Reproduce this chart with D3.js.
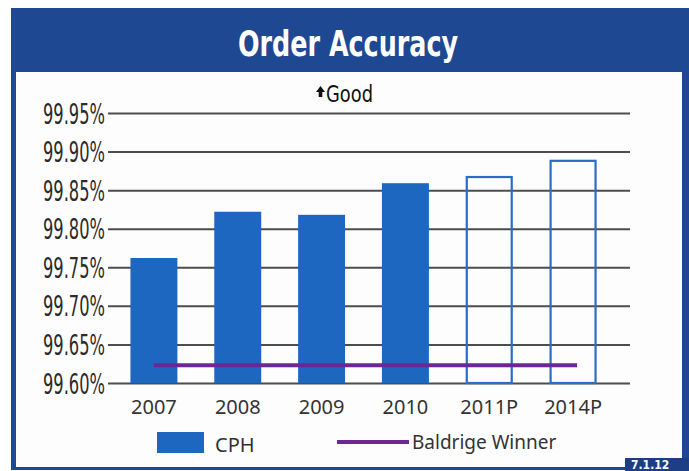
<!DOCTYPE html>
<meta charset="utf-8">

<style>
    body { margin: 0; background: #ffffff; }
    .narrow { font-family: "Liberation Sans Narrow", "DejaVu Sans Condensed", "Liberation Sans", sans-serif; }
    .plain { font-family: "Noto Sans", "DejaVu Sans", sans-serif; }
</style>

<body>
    <script src="https://d3js.org/d3.v7.min.js"></script>
    <script>

    // Chart data
    var years = ['2007', '2008', '2009', '2010', '2011P', '2014P'];
    var cphValues = [99.762, 99.822, 99.818, 99.859, 99.867, 99.888];
    // projected years are drawn as outlined bars
    var projected = [false, false, false, false, true, true];
    var baldrigeValue = 99.623;
    var tickValues = [99.60, 99.65, 99.70, 99.75, 99.80, 99.85, 99.90, 99.95];
    var tickLabels = ['99.60%', '99.65%', '99.70%', '99.75%', '99.80%', '99.85%', '99.90%', '99.95%'];

    var width = 689,
        height = 471;

    var frameBlue = '#1f4893';
    var barBlue = '#1d67c0';
    var purple = '#6b2794';

    var svg = d3.select('body').append('svg')
        .attr('width', width)
        .attr('height', height);

    // Blue frame with the white chart panel inside
    svg.append('rect')
        .attr('x', 11).attr('y', 8)
        .attr('width', 678).attr('height', 462)
        .style('fill', frameBlue);
    svg.append('rect')
        .attr('x', 16).attr('y', 72)
        .attr('width', 666).attr('height', 395)
        .style('fill', '#fdfdfd');

    // small page number tab in the corner
    svg.append('rect')
        .attr('x', 625).attr('y', 458)
        .attr('width', 64).attr('height', 13)
        .style('fill', '#1d3d85');
    svg.append('text')
        .attr('class', 'narrow')
        .attr('x', 631).attr('y', 469)
        .style('font-size', '12px')
        .style('font-weight', 'bold')
        .style('fill', '#ffffff')
        .text('7.1.12');

    // Title
    svg.append('text')
        .attr('class', 'narrow')
        .attr('x', 238).attr('y', 56)
        .attr('textLength', 220)
        .attr('lengthAdjust', 'spacingAndGlyphs')
        .style('font-size', '36px')
        .style('font-weight', 'bold')
        .style('fill', '#ffffff')
        .text('Order Accuracy');

    // "Good" direction marker
    svg.append('path')
        .attr('d', 'M320.5,86 L325,92 L322.3,92 L322.3,97 L318.7,97 L318.7,92 L316,92 Z')
        .style('fill', '#111111');
    svg.append('text')
        .attr('class', 'narrow')
        .attr('x', 326).attr('y', 102)
        .attr('textLength', 47)
        .attr('lengthAdjust', 'spacingAndGlyphs')
        .style('font-size', '23px')
        .style('fill', '#111111')
        .text('Good');

    // Scales
    var x = d3.scaleBand()
        .domain(years)
        .range([112, 615])
        .paddingInner(0.44)
        .paddingOuter(0.22);

    var y = d3.scaleLinear()
        .domain([99.60, 99.95])
        .range([383, 113]);

    // y axis with gridlines across the plot
    var yAxis = svg.append('g')
        .attr('transform', 'translate(108,0)')
        .call(d3.axisLeft(y)
            .tickValues(tickValues)
            .tickSize(-522)
            .tickPadding(3)
            .tickFormat(function(d, i) { return tickLabels[i]; }));

    yAxis.select('.domain').remove();
    yAxis.selectAll('.tick line')
        .style('stroke', '#4d4d4d')
        .style('stroke-width', 2);
    yAxis.selectAll('.tick text')
        .attr('class', 'narrow')
        .attr('dy', '0.36em')
        .attr('textLength', 62)
        .attr('lengthAdjust', 'spacingAndGlyphs')
        .style('font-size', '28px')
        .style('fill', '#2b2b2b');

    // Bars
    svg.append('g')
        .selectAll('rect')
        .data(years)
        .enter()
        .append('rect')
        .attr('x', function(d, i) { return projected[i] ? x(d) + 1 : x(d); })
        .attr('y', function(d, i) { return y(cphValues[i]); })
        .attr('width', function(d, i) { return projected[i] ? x.bandwidth() - 2 : x.bandwidth(); })
        .attr('height', function(d, i) { return y(99.60) - y(cphValues[i]); })
        .style('fill', function(d, i) { return projected[i] ? 'none' : barBlue; })
        .style('stroke', function(d, i) { return projected[i] ? '#2c6cc4' : 'none'; })
        .style('stroke-width', 2.2);

    // Baldrige winner line
    svg.append('line')
        .attr('x1', x(years[0]) + x.bandwidth() / 2)
        .attr('x2', x(years[years.length - 1]) + x.bandwidth() / 2 + 4)
        .attr('y1', y(baldrigeValue))
        .attr('y2', y(baldrigeValue))
        .style('stroke', purple)
        .style('stroke-width', 4);

    // x axis labels
    var xAxis = svg.append('g')
        .attr('transform', 'translate(0,383)')
        .call(d3.axisBottom(x).tickSize(0).tickPadding(17));
    xAxis.select('.domain').remove();
    xAxis.selectAll('.tick text')
        .attr('class', 'plain')
        .style('font-size', '20px')
        .style('fill', '#333333');

    // Legend
    var legend = svg.append('g');
    legend.append('rect')
        .attr('x', 157).attr('y', 432)
        .attr('width', 47).attr('height', 21)
        .style('fill', barBlue);
    legend.append('text')
        .attr('class', 'plain')
        .attr('x', 215).attr('y', 452)
        .style('font-size', '20px')
        .style('fill', '#333333')
        .text('CPH');
    legend.append('line')
        .attr('x1', 337).attr('x2', 409)
        .attr('y1', 442).attr('y2', 442)
        .style('stroke', purple)
        .style('stroke-width', 4);
    legend.append('text')
        .attr('class', 'plain')
        .attr('x', 412).attr('y', 449)
        .style('font-size', '19px')
        .style('fill', '#333333')
        .text('Baldrige Winner');

</script>
</body>
